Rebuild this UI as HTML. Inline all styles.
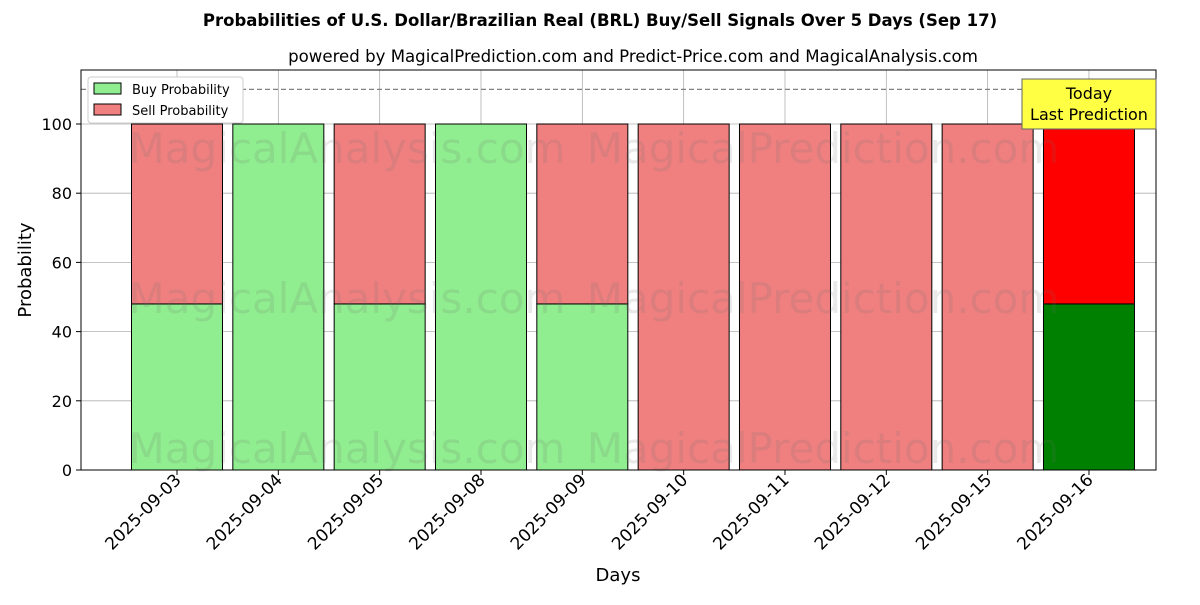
<!DOCTYPE html>
<html><head><meta charset="utf-8"><style>
body{margin:0;background:#fff;}
svg text{font-family:"DejaVu Sans","Liberation Sans",sans-serif;}
</style></head><body>
<svg id="c" width="1200" height="600" xmlns="http://www.w3.org/2000/svg">
<text x="600" y="26" text-anchor="middle" font-size="16.5" font-weight="bold">Probabilities of U.S. Dollar/Brazilian Real (BRL) Buy/Sell Signals Over 5 Days (Sep 17)</text>
<text x="633" y="62" text-anchor="middle" font-size="16.6">powered by MagicalPrediction.com and Predict-Price.com and MagicalAnalysis.com</text>
<g id="plot"></g>
<text x="618" y="581" text-anchor="middle" font-size="18">Days</text>
<text x="31" y="270" text-anchor="middle" font-size="18" transform="rotate(-90 31 270)">Probability</text>
</svg>
<script>
const categories=["2025-09-03","2025-09-04","2025-09-05","2025-09-08","2025-09-09","2025-09-10","2025-09-11","2025-09-12","2025-09-15","2025-09-16"];
const buyValues=[48,100,48,100,48,0,0,0,0,48];
const sellValues=[52,0,52,0,52,100,100,100,100,52];
const yTicks=[0,20,40,60,80,100];
const NS="http://www.w3.org/2000/svg";
const L=81,R=1156,T=70,B=470;
const y=v=>470-v*3.46;
const x=i=>177+i*101.33;
const bw=91;
const g=document.getElementById('plot');
function mk(t,a,p){const e=document.createElementNS(NS,t);for(const k in a)e.setAttribute(k,a[k]);(p||g).appendChild(e);return e;}
yTicks.forEach(v=>{const l=mk('line',{x1:L,x2:R,y1:y(v),y2:y(v),stroke:'#b0b0b0','stroke-width':0.8});

});
categories.forEach((c,i)=>{const l=mk('line',{x1:x(i),x2:x(i),y1:T,y2:B,stroke:'#b0b0b0','stroke-width':0.8});

});
categories.forEach((c,i)=>{
const last=i===categories.length-1;
const b=mk('rect',{x:x(i)-bw/2,y:y(buyValues[i]),width:bw,height:y(0)-y(buyValues[i]),fill:last?'#008000':'#90ee90',stroke:'#000','stroke-width':1});


const s=mk('rect',{x:x(i)-bw/2,y:y(buyValues[i]+sellValues[i]),width:bw,height:y(buyValues[i])-y(buyValues[i]+sellValues[i]),fill:last?'#ff0000':'#f08080',stroke:'#000','stroke-width':1});


const tk=mk('line',{x1:x(i),x2:x(i),y1:B,y2:B+5,stroke:'#000'});


const t=mk('text',{x:0,y:0,'text-anchor':'end','font-size':17,transform:`translate(${x(i)+5},${B+11}) rotate(-45)`});
t.textContent=c;


});
[[347,148],[823,148],[347,298],[823,298],[347,448],[823,448]].forEach((p,k)=>{const t=mk('text',{x:p[0],y:p[1]+15,'text-anchor':'middle','font-size':42,fill:'rgba(110,110,110,0.15)'});
t.textContent=k%2?'MagicalPrediction.com':'MagicalAnalysis.com';

});
const d=mk('line',{x1:L,x2:R,y1:y(110),y2:y(110),stroke:'#808080','stroke-width':1.2,'stroke-dasharray':'5,3'});


yTicks.forEach(v=>{const tk=mk('line',{x1:L-5,x2:L,y1:y(v),y2:y(v),stroke:'#000'});


const t=mk('text',{x:L-9,y:y(v)+6,'text-anchor':'end','font-size':16});t.textContent=v;

});
const f=mk('rect',{x:L,y:T,width:R-L,height:B-T,fill:'none',stroke:'#000','stroke-width':1});


const lg=mk('g',{});


mk('rect',{x:88,y:77,width:155,height:46,fill:'#fff',stroke:'#ccc',rx:3},lg);
mk('rect',{x:94,y:83,width:27,height:11,fill:'#90ee90',stroke:'#000'},lg);
mk('rect',{x:94,y:104,width:27,height:11,fill:'#f08080',stroke:'#000'},lg);
const l1=mk('text',{x:132,y:94,'font-size':13},lg);l1.textContent='Buy Probability';


const l2=mk('text',{x:132,y:115,'font-size':13},lg);l2.textContent='Sell Probability';


const an=mk('g',{});


mk('rect',{x:1022,y:79,width:134,height:50,fill:'#ffff44',stroke:'#666'},an);
const a1=mk('text',{x:1089,y:99,'text-anchor':'middle','font-size':16},an);a1.textContent='Today';
const a2=mk('text',{x:1089,y:120,'text-anchor':'middle','font-size':16},an);a2.textContent='Last Prediction';
</script>
</body></html>
